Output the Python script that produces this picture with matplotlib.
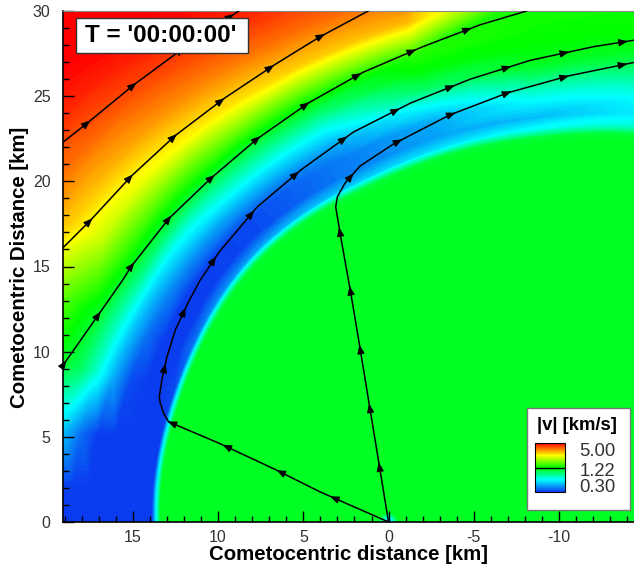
import numpy as np
import matplotlib
matplotlib.use('Agg')
import matplotlib.pyplot as plt
import matplotlib.tri as mtri
from matplotlib.colors import LinearSegmentedColormap, LogNorm
from matplotlib.cm import ScalarMappable
from matplotlib.patches import Rectangle
from matplotlib.ticker import MultipleLocator

plt.rcParams['font.family'] = ['Liberation Sans', 'DejaVu Sans']
plt.rcParams['axes.unicode_minus'] = False

centre_x, centre_y = -8.35, 2.0
ray_angle_deg = [-10, 0, 7, 15, 22, 30, 45, 60, 75, 90, 105, 120]
edge_radius_km = [22.1, 21.85, 21.6, 21.35, 21.2, 21.1, 20.8, 20.3, 20.3, 20.7, 21.7, 23.0]
edge_offset_km = [-2.0, -0.6, -0.2, 0.0, 0.3, 1.0, 2.0, 3.0, 4.0, 5.0, 6.0, 8.0,
                  10.0, 12.0, 14.0, 16.0, 18.0, 20.0]
speed_kms = [
    [1.12, 1.12, 1.12, 0.70, 0.30, 0.30, 0.30, 0.30, 0.30, 0.30, 0.30, 0.35, 0.60, 0.90, 1.20, 1.60, 2.10, 2.60],
    [1.12, 1.12, 1.12, 0.70, 0.30, 0.30, 0.30, 0.30, 0.30, 0.30, 0.30, 0.45, 0.80, 1.15, 1.50, 2.00, 2.60, 3.20],
    [1.12, 1.12, 1.12, 0.72, 0.30, 0.30, 0.30, 0.30, 0.30, 0.36, 0.48, 0.90, 1.20, 1.60, 2.10, 2.70, 3.30, 3.90],
    [1.12, 1.12, 1.12, 0.75, 0.32, 0.30, 0.30, 0.32, 0.45, 0.68, 0.95, 1.25, 1.70, 2.40, 3.10, 3.70, 4.20, 4.70],
    [1.12, 1.12, 1.11, 0.78, 0.36, 0.30, 0.30, 0.36, 0.50, 0.75, 1.05, 1.45, 2.10, 2.90, 3.60, 4.20, 4.70, 5.10],
    [1.12, 1.12, 1.10, 0.80, 0.40, 0.30, 0.30, 0.40, 0.55, 0.88, 1.25, 2.10, 2.80, 3.50, 4.20, 4.80, 5.20, 5.50],
    [1.12, 1.12, 1.08, 0.80, 0.45, 0.32, 0.32, 0.45, 0.65, 0.92, 1.35, 2.50, 3.30, 4.00, 4.60, 5.10, 5.40, 5.60],
    [1.12, 1.12, 1.05, 0.80, 0.50, 0.38, 0.38, 0.45, 0.62, 0.90, 1.30, 2.80, 3.70, 4.50, 5.10, 5.50, 5.70, 5.80],
    [1.12, 1.12, 1.05, 0.80, 0.55, 0.43, 0.45, 0.62, 0.95, 1.20, 1.35, 3.00, 3.90, 4.60, 5.10, 5.40, 5.60, 5.70],
    [1.12, 1.12, 1.05, 0.82, 0.62, 0.47, 0.60, 0.80, 1.10, 1.20, 1.25, 1.30, 1.60, 2.00, 2.60, 3.20, 3.80, 4.40],
    [1.12, 1.12, 1.05, 0.85, 0.68, 0.56, 0.60, 0.75, 0.95, 1.15, 1.22, 1.28, 1.35, 1.50, 1.70, 2.00, 2.40, 2.80],
    [1.12, 1.12, 1.05, 0.85, 0.68, 0.56, 0.60, 0.75, 0.95, 1.15, 1.22, 1.28, 1.35, 1.50, 1.70, 2.00, 2.40, 2.80],
]
inner_speed = 1.12
# small dip right at the nucleus
nucleus_radius_km = [0.0, 0.15, 0.35, 0.6]
nucleus_speed_kms = [0.30, 0.45, 0.75, 1.12]

# --- streamlines (km) ---
line_a_x = [19.1, 17.7, 14.9, 12.6, 10.7, 8.8]
line_a_y = [22.3, 23.4, 25.7, 27.4, 28.7, 30.0]
line_b_x = [19.1, 17.5, 15.1, 12.5, 9.6, 6.6, 4.0, 1.2]
line_b_y = [16.1, 17.7, 20.3, 22.7, 24.9, 26.9, 28.5, 30.0]
line_c_x = [19.1, 17.0, 15.6, 15.1, 12.9, 10.4, 7.7, 4.7, 1.5, -2.0, -5.4, -8.1]
line_c_y = [9.2, 12.2, 14.2, 15.0, 17.8, 20.2, 22.5, 24.6, 26.4, 27.9, 29.2, 30.0]
line_e_x = [0.0, 4.0, 6.6, 10.0, 12.9, 13.18, 13.4, 13.45, 13.3, 13.0, 12.5, 11.75,
            11.05, 9.9, 7.7, 5.1, 2.05, -1.3, -4.8, -8.3, -12.0, -14.5]
line_e_y = [0.0, 1.76, 3.06, 4.65, 5.88, 6.35, 7.0, 7.35, 8.35, 9.7, 11.3, 12.9,
            14.2, 15.9, 18.5, 20.7, 22.9, 24.6, 26.0, 27.1, 27.9, 28.3]
line_f_x = [0.0, 0.53, 1.1, 1.64, 2.2, 2.8, 3.1, 3.0, 2.55, 1.67, -0.3, -3.6,
            -7.0, -10.6, -14.5]
line_f_y = [0.0, 3.24, 6.7, 10.0, 13.35, 16.7, 18.5, 19.1, 19.9, 20.9, 22.2, 23.9,
            25.2, 26.2, 27.0]
arrow_start_km = [1.8, 2.2, 0.1, 3.5, 3.3]
arrow_step_km = 3.5

cbar_ticks = [5.00, 1.22, 0.30]

# colour map like the tecplot rainbow, log spaced
cmap = LinearSegmentedColormap.from_list(
    'rainbow_tec', ['#0a3cf0', '#00ffff', '#00ff00', '#ffff00', '#ff0000'])
norm = LogNorm(vmin=0.30, vmax=5.00)
levels = np.geomspace(0.29, 5.8, 160)

W, H = 634, 568
fig = plt.figure(figsize=(W / 100, H / 100), dpi=100)
ax = fig.add_axes([63 / W, 1 - 522 / H, (634 - 63) / W, (522 - 11) / H])
ax.set_facecolor(cmap(norm(inner_speed)))

# triangulate the (angle, offset) table; matplotlib refines it (linear field,
# smooth edge radius) and the refined nodes are mapped back to x, y
n_ang, n_off = len(ray_angle_deg), len(edge_offset_km)
ang_g, off_g = np.meshgrid(np.radians(ray_angle_deg), edge_offset_km, indexing='ij')
rad_g = np.repeat(np.array(edge_radius_km)[:, None], n_off, axis=1)
idx = np.arange(n_ang * n_off).reshape(n_ang, n_off)
tris = []
for i in range(n_ang - 1):
    for j in range(n_off - 1):
        a, b, c, d = idx[i, j], idx[i + 1, j], idx[i + 1, j + 1], idx[i, j + 1]
        tris += [[a, b, c], [a, c, d]]
ptri = mtri.Triangulation(ang_g.ravel() * 25, off_g.ravel(), np.array(tris))
logv = np.log(np.array(speed_kms)).ravel()
refiner = mtri.UniformTriRefiner(ptri)
fine, fine_logv = refiner.refine_field(
    logv, triinterpolator=mtri.LinearTriInterpolator(ptri, logv), subdiv=4)
_, fine_rad = refiner.refine_field(rad_g.ravel(), subdiv=4)
f_ang = fine.x / 25
f_r = fine_rad + fine.y
xy_tri = mtri.Triangulation(centre_x + f_r * np.cos(f_ang), centre_y + f_r * np.sin(f_ang),
                            fine.triangles)
ax.tricontourf(xy_tri, np.exp(fine_logv), levels=levels, norm=norm, cmap=cmap,
               extend='both', antialiased=False)

# nucleus dip
nuc_a = np.linspace(0, np.pi, 37)
nuc_r = np.array(nucleus_radius_km)
ax.contourf(np.outer(np.cos(nuc_a), nuc_r), np.outer(np.sin(nuc_a), nuc_r),
            np.tile(nucleus_speed_kms, (len(nuc_a), 1)), levels=levels, norm=norm,
            cmap=cmap, extend='both')


def draw_streamline(xs, ys, start):
    ax.plot(xs, ys, color='black', lw=1.1, solid_joinstyle='round', zorder=3)
    pts = np.column_stack([xs, ys])
    seg = np.hypot(*np.diff(pts, axis=0).T)
    s = np.concatenate([[0], np.cumsum(seg)])
    pos = start
    while pos < s[-1] - 0.3:
        i = min(np.searchsorted(s, pos, side='right') - 1, len(seg) - 1)
        u = (pts[i + 1] - pts[i]) / seg[i]
        p = pts[i] + (pos - s[i]) * u
        ax.annotate('', xy=p + 0.25 * u, xytext=p - 0.25 * u,
                    arrowprops=dict(arrowstyle='-|>,head_length=0.55,head_width=0.22',
                                    color='black', lw=0.8, mutation_scale=10,
                                    shrinkA=0, shrinkB=0),
                    zorder=4, annotation_clip=True)
        pos += arrow_step_km


lines = [(line_a_x, line_a_y), (line_b_x, line_b_y), (line_c_x, line_c_y),
         (line_e_x, line_e_y), (line_f_x, line_f_y)]
for (xs, ys), st in zip(lines, arrow_start_km):
    draw_streamline(xs, ys, st)

ax.set_xlim(19.1, -14.4)
ax.set_ylim(0, 30)
ax.xaxis.set_major_locator(MultipleLocator(5))
ax.xaxis.set_minor_locator(MultipleLocator(1))
ax.yaxis.set_major_locator(MultipleLocator(5))
ax.yaxis.set_minor_locator(MultipleLocator(1))
ax.tick_params(which='both', direction='in', colors='black', labelcolor='#333333',
               labelsize=11.5, width=1)
ax.tick_params(which='major', length=8)
ax.tick_params(which='minor', length=4.5)
ax.tick_params(axis='y', which='both', pad=9)
ax.tick_params(axis='x', which='both', pad=6)
ax.spines['right'].set_visible(False)
ax.spines['top'].set_color('#888888')
ax.spines['left'].set_linewidth(1.2)
ax.spines['bottom'].set_linewidth(1.2)

fig.text(348.5 / W, 1 - 555 / H, 'Cometocentric distance [km]', ha='center', va='center',
         fontsize=14.7, fontweight='bold')
fig.text(19.5 / W, 1 - 267 / H, 'Cometocentric Distance [km]', ha='center', va='center',
         rotation=90, fontsize=14.7, fontweight='bold')

# time stamp box
fig.add_artist(Rectangle((76 / W, 1 - 53 / H), 172 / W, 35 / H, transform=fig.transFigure,
                         facecolor='white', edgecolor='#333333', lw=1, zorder=5))
fig.text(161 / W, 1 - 36 / H, "T = '00:00:00'", ha='center', va='center', fontsize=17.5,
         fontweight='bold', zorder=6)

# legend box with colour bar
fig.add_artist(Rectangle((527 / W, 1 - 510 / H), 103 / W, 102 / H, transform=fig.transFigure,
                         facecolor='white', edgecolor='#777777', lw=1, zorder=5))
cax = fig.add_axes([535 / W, 1 - 492 / H, 30 / W, 49 / H], zorder=6)
cb = fig.colorbar(ScalarMappable(norm=norm, cmap=cmap), cax=cax)
cb.set_ticks([])
cb.minorticks_off()
cb.outline.set_linewidth(0.8)
cax.axhline(cbar_ticks[1], color='black', lw=1)
fig.text(577 / W, 1 - 425 / H, '|v| [km/s]', ha='center', va='center', fontsize=13.3,
         fontweight='bold', zorder=7)
for val, py in zip(cbar_ticks, [451, 471, 488]):
    fig.text(615 / W, 1 - py / H, f'{val:.2f}', ha='right', va='center', fontsize=13.3,
             color='#333333', zorder=7)

fig.savefig('out.png', dpi=100)
